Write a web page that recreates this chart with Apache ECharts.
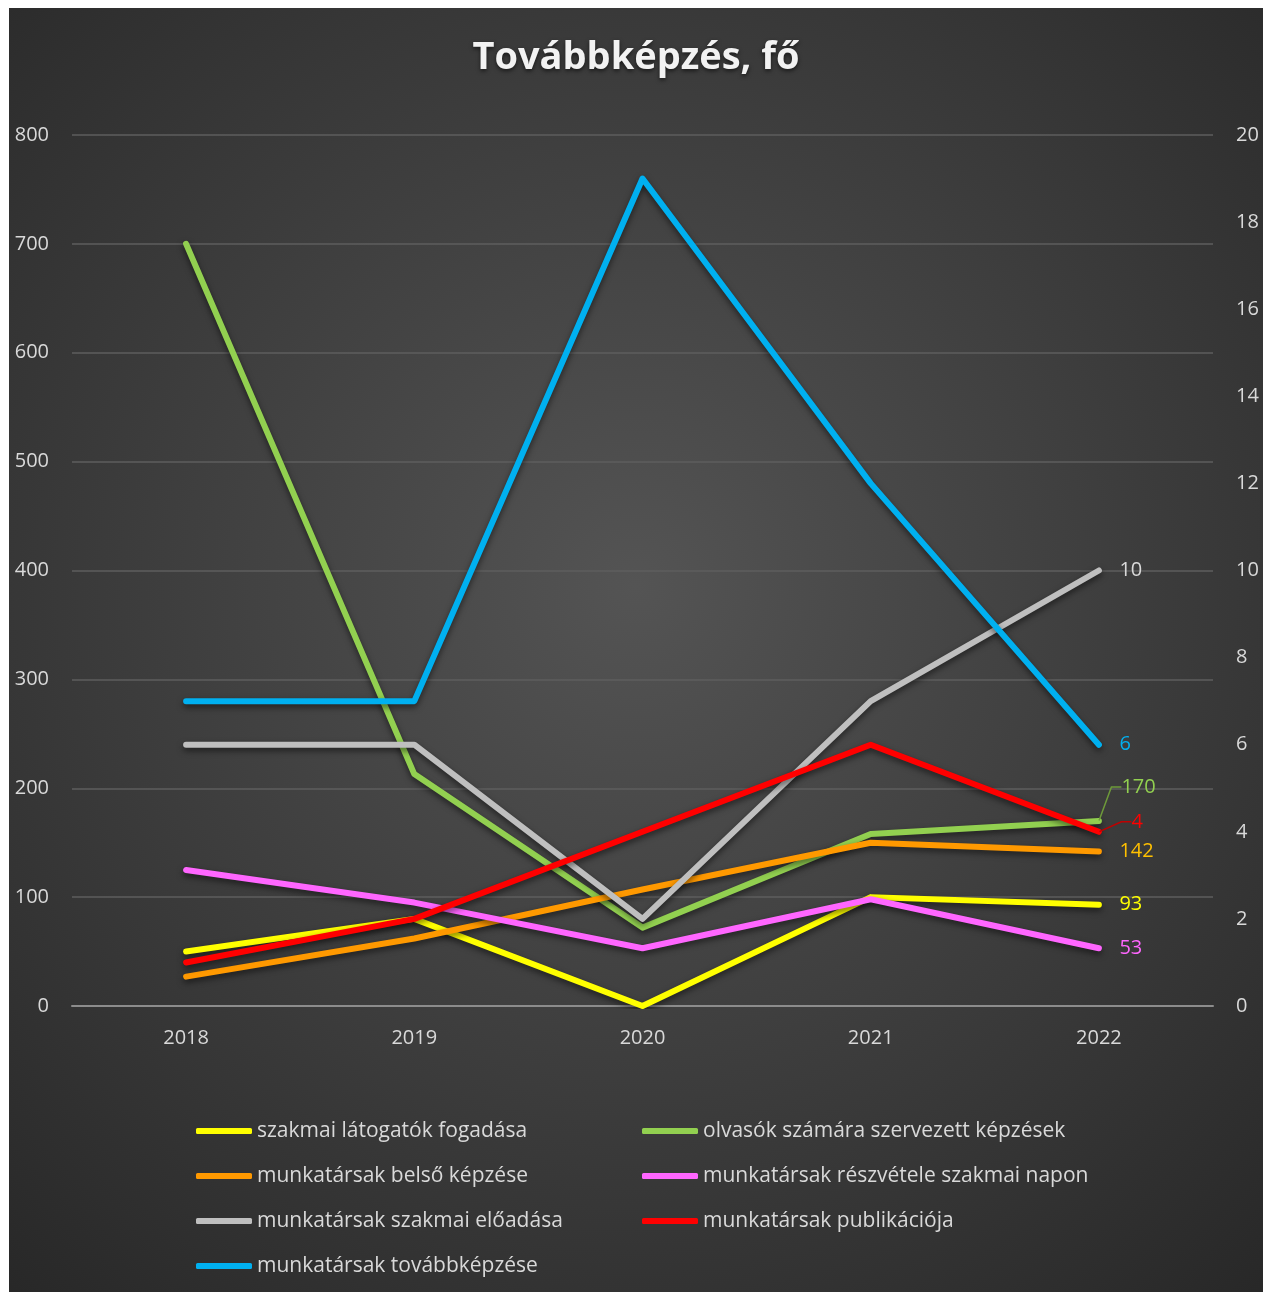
<!DOCTYPE html>
<html>
<head>
<meta charset="utf-8">
<script src="https://cdn.jsdelivr.net/npm/echarts@6/dist/echarts.min.js"></script>
<style>
  html, body { margin: 0; padding: 0; background: #fff; }
  #chart { position: absolute; left: 9px; top: 8px; width: 1254px; height: 1284px; }
</style>
</head>
<body>
<div id="chart"></div>
<script>
const years = ['2018', '2019', '2020', '2021', '2022']
const names = [
  'szakmai látogatók fogadása',
  'olvasók számára szervezett képzések',
  'munkatársak belső képzése',
  'munkatársak részvétele szakmai napon',
  'munkatársak szakmai előadása',
  'munkatársak publikációja',
  'munkatársak továbbképzése',
]
const latogatok = [50, 80, 0, 100, 93]
const olvasok = [700, 213, 72, 158, 170]
const belso = [27, 62, 107, 150, 142]
const reszvetel = [125, 95, 53, 98, 53]
const eloadas = [6, 6, 2, 7, 10]
const publikacio = [1, 2, 4, 6, 4]
const tovabbkepzes = [7, 7, 19, 12, 6]

const colors = ['#FFFF00', '#92D050', '#FF9900', '#FF66FF', '#BFBFBF', '#FF0000', '#00B0F0']
const labelColors = ['#FFFF00', '#92D050', '#FFC000', '#FF66FF', '#D9D9D9', '#FF0000', '#00B0F0']
const leaderColors = { 1: '#6E9A3A', 5: '#C00000' }
const values = [latogatok, olvasok, belso, reszvetel, eloadas, publikacio, tovabbkepzes]
const axisIdx = [0, 0, 0, 0, 1, 1, 1]
// moved end labels (with leader lines) for the crowded ones
const labelMove = { 1: { dx: 0, dy: -34 }, 5: { dx: 10, dy: -10 } }

const font = '"Open Sans", sans-serif'
const last = years.length - 1

const series = values.map((vals, i) => ({
  name: names[i],
  type: 'line',
  yAxisIndex: axisIdx[i],
  symbol: 'circle',
  symbolSize: 1,
  itemStyle: { color: colors[i] },
  lineStyle: {
    width: 6, color: colors[i], cap: 'round', join: 'round',
    shadowColor: 'rgba(0,0,0,0.55)', shadowBlur: 6, shadowOffsetY: 3,
  },
  data: vals.map((v, k) => k === last
    ? { value: v, label: { show: true } }
    : v),
  label: {
    show: false, position: 'right', distance: labelMove[i] ? 14 : 20,
    padding: labelMove[i] ? [0, 0, 0, 8] : 0,
    color: labelColors[i], fontSize: 20, fontFamily: font,
  },
  labelLayout: labelMove[i] ? { dx: labelMove[i].dx, dy: labelMove[i].dy } : undefined,
  labelLine: labelMove[i] ? { show: true, length2: 10, lineStyle: { color: leaderColors[i], width: 1.5 } } : undefined,
  emphasis: { disabled: true },
  z: 2 + i,
}))

const legendText = { color: '#D9D9D9', fontSize: 21, fontFamily: font, lineHeight: 24 }
const legendBase = {
  orient: 'vertical', top: 1106, itemWidth: 56, itemHeight: 6, itemGap: 21,
  icon: 'roundRect', textStyle: legendText, selectedMode: false,
}

const chart = echarts.init(document.getElementById('chart'))
chart.setOption({
  backgroundColor: {
    type: 'radial', x: 0.5, y: 0.45, r: 0.75,
    colorStops: [{ offset: 0, color: '#545454' }, { offset: 1, color: '#282828' }],
  },
  animation: false,
  title: {
    text: 'Továbbképzés, fő', left: 'center', top: 26,
    textStyle: {
      color: '#F2F2F2', fontSize: 38, fontWeight: 'bold', fontFamily: font,
      textShadowColor: 'rgba(0,0,0,0.6)', textShadowBlur: 4, textShadowOffsetY: 2,
    },
  },
  legend: [
    { ...legendBase, left: 182, data: [names[0], names[2], names[4], names[6]] },
    { ...legendBase, left: 628, data: [names[1], names[3], names[5]] },
  ],
  grid: { left: 63, right: 50, top: 127, bottom: 286, containLabel: false },
  xAxis: {
    type: 'category', data: years, boundaryGap: true,
    axisLine: { lineStyle: { color: '#8C8C8C', width: 2 } },
    axisTick: { show: false },
    axisLabel: { color: '#D9D9D9', fontSize: 20, fontFamily: font, margin: 22 },
  },
  yAxis: [
    {
      type: 'value', min: 0, max: 800, interval: 100,
      axisLine: { show: false }, axisTick: { show: false },
      axisLabel: { color: '#D9D9D9', fontSize: 20, fontFamily: font, margin: 23 },
      splitLine: { lineStyle: { color: '#5E5E5E', width: 1.5 } },
    },
    {
      type: 'value', min: 0, max: 20, interval: 2,
      axisLine: { show: false }, axisTick: { show: false },
      axisLabel: { color: '#D9D9D9', fontSize: 20, fontFamily: font, margin: 23 },
      splitLine: { show: false },
    },
  ],
  series,
})
</script>
</body>
</html>
